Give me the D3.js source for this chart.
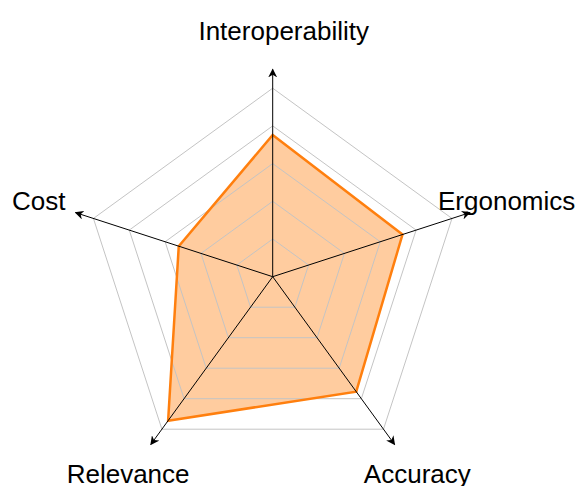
<!DOCTYPE html>
<html lang="en">
<head>
    <meta charset="UTF-8">
    <title>Radar chart</title>
    <script src="https://cdnjs.cloudflare.com/ajax/libs/d3/7.8.5/d3.min.js"></script>
    <style>
        body { margin: 0; background: #fff; }
        svg { display: block; }
        text { font-family: "Liberation Sans", Arial, sans-serif; }
    </style>
</head>
<body>
    <svg id="chart" width="576" height="486"></svg>

    <script>
        // axes go clockwise starting from the top
        const axes = ["Interoperability", "Ergonomics", "Accuracy", "Relevance", "Cost"];
        const scores = [3.76, 3.62, 3.77, 4.72, 2.62];
        const gridLevels = [1, 2, 3, 4, 5];
        const maxLevel = 5;

        const width = 576, height = 486;
        const cx = 272.7, cy = 276.7;
        const radius = 188.5;

        const svg = d3.select("#chart");
        const g = svg.append("g").attr("transform", `translate(${cx},${cy})`);

        const r = d3.scaleLinear().domain([0, maxLevel]).range([0, radius]);
        // angle measured clockwise from 12 o'clock
        const angle = d3.scalePoint().domain(axes).range([0, 2 * Math.PI * (axes.length - 1) / axes.length]);

        const pt = (name, v) => {
            const a = angle(name);
            return [r(v) * Math.sin(a), -r(v) * Math.cos(a)];
        };

        // arrow head marker
        svg.append("defs").append("marker")
            .attr("id", "arrow")
            .attr("viewBox", "0 0 10 10")
            .attr("refX", 9).attr("refY", 5)
            .attr("markerWidth", 9).attr("markerHeight", 9)
            .attr("markerUnits", "userSpaceOnUse")
            .attr("orient", "auto")
            .append("path")
            .attr("d", "M0,0 L10,5 L0,10 L3,5 z")
            .attr("fill", "#000");

        // data area (fill first, grid shows through)
        const line = d3.line();
        const dataPts = axes.map((a, i) => pt(a, scores[i]));

        g.append("path")
            .attr("d", line(dataPts) + "Z")
            .attr("fill", "#ff7f0e")
            .attr("fill-opacity", 0.4)
            .attr("stroke", "none");

        // grid pentagons
        g.selectAll(".grid")
            .data(gridLevels)
            .enter()
            .append("path")
            .attr("class", "grid")
            .attr("d", (lv) => line(axes.map((a) => pt(a, lv))) + "Z")
            .attr("fill", "none")
            .attr("stroke", "#c4c4c4")
            .attr("stroke-width", 1);

        // outline of the data
        g.append("path")
            .attr("d", line(dataPts) + "Z")
            .attr("fill", "none")
            .attr("stroke", "#ff7f0e")
            .attr("stroke-width", 2.5)
            .attr("stroke-linejoin", "miter");

        // axis spokes with arrows
        g.selectAll(".spoke")
            .data(axes)
            .enter()
            .append("line")
            .attr("class", "spoke")
            .attr("x1", 0).attr("y1", 0)
            .attr("x2", (a) => pt(a, maxLevel * 1.1)[0])
            .attr("y2", (a) => pt(a, maxLevel * 1.1)[1])
            .attr("stroke", "#000")
            .attr("stroke-width", 1)
            .attr("marker-end", "url(#arrow)");

        // labels
        const labelNudge = { "Interoperability": [11, 0], "Accuracy": [0, -2], "Relevance": [0, -2] };
        g.selectAll(".label")
            .data(axes)
            .enter()
            .append("text")
            .attr("class", "label")
            .attr("x", (a) => pt(a, maxLevel * 1.305)[0] + (labelNudge[a] ? labelNudge[a][0] : 0))
            .attr("y", (a) => pt(a, maxLevel * 1.305)[1] + (labelNudge[a] ? labelNudge[a][1] : 0))
            .attr("dy", "0.35em")
            .attr("text-anchor", "middle")
            .attr("font-size", 26)
            .attr("fill", "#000")
            .text((a) => a);
    </script>
</body>
</html>
